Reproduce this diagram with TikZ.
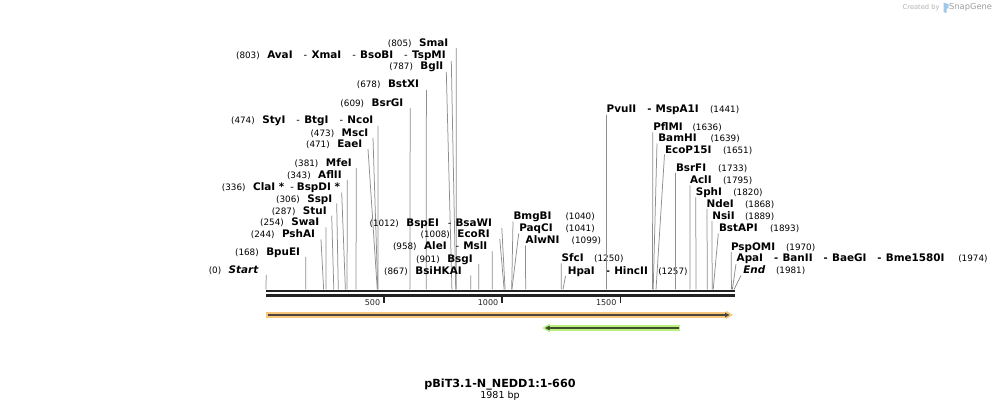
\documentclass[tikz,border=0pt]{standalone}
\usepackage{fontspec}
\setmainfont{DejaVu Sans}
\usetikzlibrary{arrows.meta}
\definecolor{leadgray}{HTML}{8E8E8E}
\definecolor{rulerc}{HTML}{222222}
\definecolor{orangeband}{HTML}{F8C77C}
\definecolor{greenband}{HTML}{BAF07F}
\definecolor{featline}{HTML}{4A463C}
\definecolor{greenline}{HTML}{3F4F2E}
\definecolor{logoblue}{HTML}{9CC9EC}
\newcommand\rsNm[1]{{\fontsize{10.4}{12}\selectfont\bfseries #1}}
\newcommand\rsNum[1]{{\fontsize{8.8}{10}\selectfont #1}}
\newcommand\rsD{\hspace{11pt}{\fontsize{10}{12}\selectfont -}\hspace{4.3pt}}
\newcommand\rsG{\hspace{7.5pt}}
\tikzset{
  lab/.style={inner sep=0pt, outer sep=0pt, text=black},
  leader/.style={draw=leadgray, line width=0.75pt},
  rulerline/.style={draw=rulerc},
  ticklab/.style={inner sep=0pt, text=black!85, font=\fontsize{8}{10}\selectfont, anchor=base east}
}
% #1 id, #2 content, #3 x right, #4 center y, #5 sx, #6 sy, #7 bp
\newcommand\leftsite[7]{%
  \node[lab, anchor=base east] (L#1) at (#3,{#4+3.7}) {#2};
  \coordinate (S#1) at (#5,#6);
  \coordinate (C#1) at ({266+#7*0.236244},289.5);
  \draw[leader] (S#1) -- (C#1);
}
% #1 id, #2 name, #3 x, #4 y, #5 number, #6 xnum, #7 sx, #8 sy, #9 bp
\newcommand\rightsite[9]{%
  \node[lab, anchor=base west] (L#1) at (#3,{#4+3.7}) {\rsNm{#2}};
  \node[lab, anchor=base west] (N#1) at (#6,{#4+3.7}) {\rsNum{#5}};
  \coordinate (S#1) at (#7,#8);
  \coordinate (C#1) at ({266+#9*0.236244},289.5);
  \draw[leader] (S#1) -- (C#1);
}
\begin{document}
\begin{tikzpicture}[x=1pt,y=-1pt]
\path[use as bounding box, fill=white] (0,0) rectangle (1001,411);

% logo
\node[anchor=west, inner sep=0pt, text=black!30, font=\fontsize{6.7}{8}\selectfont] (cb) at (902.5,7.5) {Created by};
\fill[logoblue] (943.5,2.5) -- (948.5,4.2) -- (948.5,8) -- (946.6,8.8) -- (946.6,13) -- (943.5,12) -- cycle;
\node[anchor=west, inner sep=0pt, text=black!38, font=\fontsize{8.3}{10}\selectfont] (sg) at (949,7.5) {SnapGene};

% left-hand labels
\leftsite{SmaI}{\rsNum{(805)}\rsG\rsNm{SmaI}}{448.3}{43.3}{456.2}{48}{805}
\leftsite{AvaI}{\rsNum{(803)}\rsG\rsNm{AvaI}\rsD\rsNm{XmaI}\rsD\rsNm{BsoBI}\rsD\rsNm{TspMI}}{445.7}{55}{451.3}{61}{803}
\leftsite{BglI}{\rsNum{(787)}\rsG\rsNm{BglI}}{443.3}{66.3}{446.3}{72}{787}
\leftsite{BstXI}{\rsNum{(678)}\rsG\rsNm{BstXI}}{419}{84.3}{426.4}{90}{678}
\leftsite{BsrGI}{\rsNum{(609)}\rsG\rsNm{BsrGI}}{403.3}{102.7}{410.2}{108}{609}
\leftsite{StyI}{\rsNum{(474)}\rsG\rsNm{StyI}\rsD\rsNm{BtgI}\rsD\rsNm{NcoI}}{373.3}{120}{378}{126}{474}
\leftsite{MscI}{\rsNum{(473)}\rsG\rsNm{MscI}}{368.3}{132.5}{373}{138}{473}
\leftsite{EaeI}{\rsNum{(471)}\rsG\rsNm{EaeI}}{362.3}{143.7}{368}{149}{471}
\leftsite{MfeI}{\rsNum{(381)}\rsG\rsNm{MfeI}}{351.7}{162.7}{356.3}{168}{381}
\leftsite{AflII}{\rsNum{(343)}\rsG\rsNm{AflII}}{341.7}{175}{347.3}{180}{343}
\leftsite{ClaI}{\rsNum{(336)}\rsG\rsNm{ClaI *}\hspace{6pt}{\fontsize{10}{12}\selectfont -}\hspace{3pt}\rsNm{BspDI *}}{340}{186.7}{341.7}{192.5}{336}
\leftsite{SspI}{\rsNum{(306)}\rsG\rsNm{SspI}}{332.3}{198.7}{336.7}{203.5}{306}
\leftsite{StuI}{\rsNum{(287)}\rsG\rsNm{StuI}}{326.7}{210.7}{331.7}{215.7}{287}
\leftsite{SwaI}{\rsNum{(254)}\rsG\rsNm{SwaI}}{319.3}{222}{326}{227.5}{254}
\leftsite{PshAI}{\rsNum{(244)}\rsG\rsNm{PshAI}}{315}{234}{321}{239.5}{244}
\leftsite{BpuEI}{\rsNum{(168)}\rsG\rsNm{BpuEI}}{300}{251.7}{305.8}{257}{168}
\leftsite{Start}{\rsNum{(0)}\rsG\rsNm{\itshape Start}}{258.3}{270}{266.2}{275}{0}
\leftsite{BspEI}{\rsNum{(1012)}\rsG\rsNm{BspEI}\hspace{9pt}{\fontsize{10}{12}\selectfont -}\hspace{4pt}\rsNm{BsaWI}}{492}{222.7}{501.8}{228}{1012}
\leftsite{EcoRI}{\rsNum{(1008)}\rsG\rsNm{EcoRI}}{489.7}{234.3}{499.8}{239}{1008}
\leftsite{AleI}{\rsNum{(958)}\rsG\rsNm{AleI}\hspace{9pt}{\fontsize{10}{12}\selectfont -}\hspace{4pt}\rsNm{MslI}}{487.3}{246}{492.3}{251.5}{958}
\leftsite{BsgI}{\rsNum{(901)}\rsG\rsNm{BsgI}}{472.7}{259}{478.7}{264}{901}
\leftsite{BsiHKAI}{\rsNum{(867)}\rsG\rsNm{BsiHKAI}}{461.7}{270.7}{470.7}{275.5}{867}

% right-hand labels
\rightsite{BmgBI}{BmgBI}{513.5}{216}{(1040)}{565.5}{513}{221.5}{1040}
\rightsite{PaqCI}{PaqCI}{519.3}{228.3}{(1041)}{565.5}{518.7}{233.5}{1041}
\rightsite{AlwNI}{AlwNI}{525.7}{240}{(1099)}{571.7}{525.6}{245.5}{1099}
\rightsite{SfcI}{SfcI}{561.7}{258.3}{(1250)}{594.2}{561.3}{263.5}{1250}
\rightsite{HpaI}{HpaI\rsD HincII}{567.8}{270.7}{(1257)}{658.3}{565.5}{276}{1257}
\rightsite{PvuII}{PvuII\rsD MspA1I}{606.7}{109}{(1441)}{710}{606.4}{115}{1441}
\rightsite{PflMI}{PflMI}{653.3}{127}{(1636)}{692.5}{652.8}{132.5}{1636}
\rightsite{BamHI}{BamHI}{658.3}{138.3}{(1639)}{710.5}{657}{143.5}{1639}
\rightsite{EcoP15I}{EcoP15I}{665}{149.5}{(1651)}{723}{664.5}{154.5}{1651}
\rightsite{BsrFI}{BsrFI}{676}{167.5}{(1733)}{718}{675.6}{173}{1733}
\rightsite{AclI}{AclI}{690}{180.3}{(1795)}{723}{690}{185.5}{1795}
\rightsite{SphI}{SphI}{695.8}{192.3}{(1820)}{733.3}{695.8}{197.5}{1820}
\rightsite{NdeI}{NdeI}{706.7}{203.7}{(1868)}{745}{707}{209}{1868}
\rightsite{NsiI}{NsiI}{712.3}{216}{(1889)}{745}{711.9}{221}{1889}
\rightsite{BstAPI}{BstAPI}{719}{228.3}{(1893)}{770}{718.3}{233.5}{1893}
\rightsite{PspOMI}{PspOMI}{731}{246.5}{(1970)}{786}{731.3}{252}{1970}
\rightsite{ApaI}{ApaI\rsD BanII\rsD BaeGI\rsD Bme1580I}{736.7}{258.3}{(1974)}{958.3}{736}{264}{1974}
\rightsite{End}{\itshape End}{743.3}{270}{(1981)}{776}{741}{275.5}{1981}

% ruler
\draw[rulerline, line width=2.3pt] (266,291.2) -- (735,291.2);
\draw[rulerline, line width=2.6pt] (266,295.4) -- (735,295.4);
\foreach \v/\xx in {500/384.1,1000/502.2,1500/620.4}{
  \draw[rulerline, line width=1.5pt] (\xx,296) -- (\xx,302.7);
  \node[ticklab] (t\v) at (\xx-3.8,305.2) {\v};
}

% features
\coordinate (fa1) at (266,315);
\coordinate (fa2) at (732.5,315);
\fill[orangeband] (266,312.4) rectangle (727,317.6);
\fill[orangeband] (726,310.8) -- (732.8,315) -- (726,319.2) -- cycle;
\draw[featline, line width=1.5pt, -{Triangle[length=4.5pt,width=4.5pt]}] (267.5,315) -- (729.5,315);

\coordinate (fb1) at (680,328);
\coordinate (fb2) at (542.3,328);
\fill[greenband] (548.5,325.4) rectangle (680.3,330.6);
\fill[greenband] (549.5,323.8) -- (542.3,328) -- (549.5,332.2) -- cycle;
\draw[greenline, line width=1.5pt, -{Triangle[length=4.5pt,width=4.5pt]}] (678.8,328) -- (545,328);

% title
\node[inner sep=0pt, anchor=base, font=\fontsize{11.2}{13}\selectfont\bfseries] (title) at (500,387.6) {pBiT3.1-N\_NEDD1:1-660};
\node[inner sep=0pt, anchor=base, font=\fontsize{9.5}{11}\selectfont] (bp) at (500,398.4) {1981 bp};
\end{tikzpicture}
\end{document}
